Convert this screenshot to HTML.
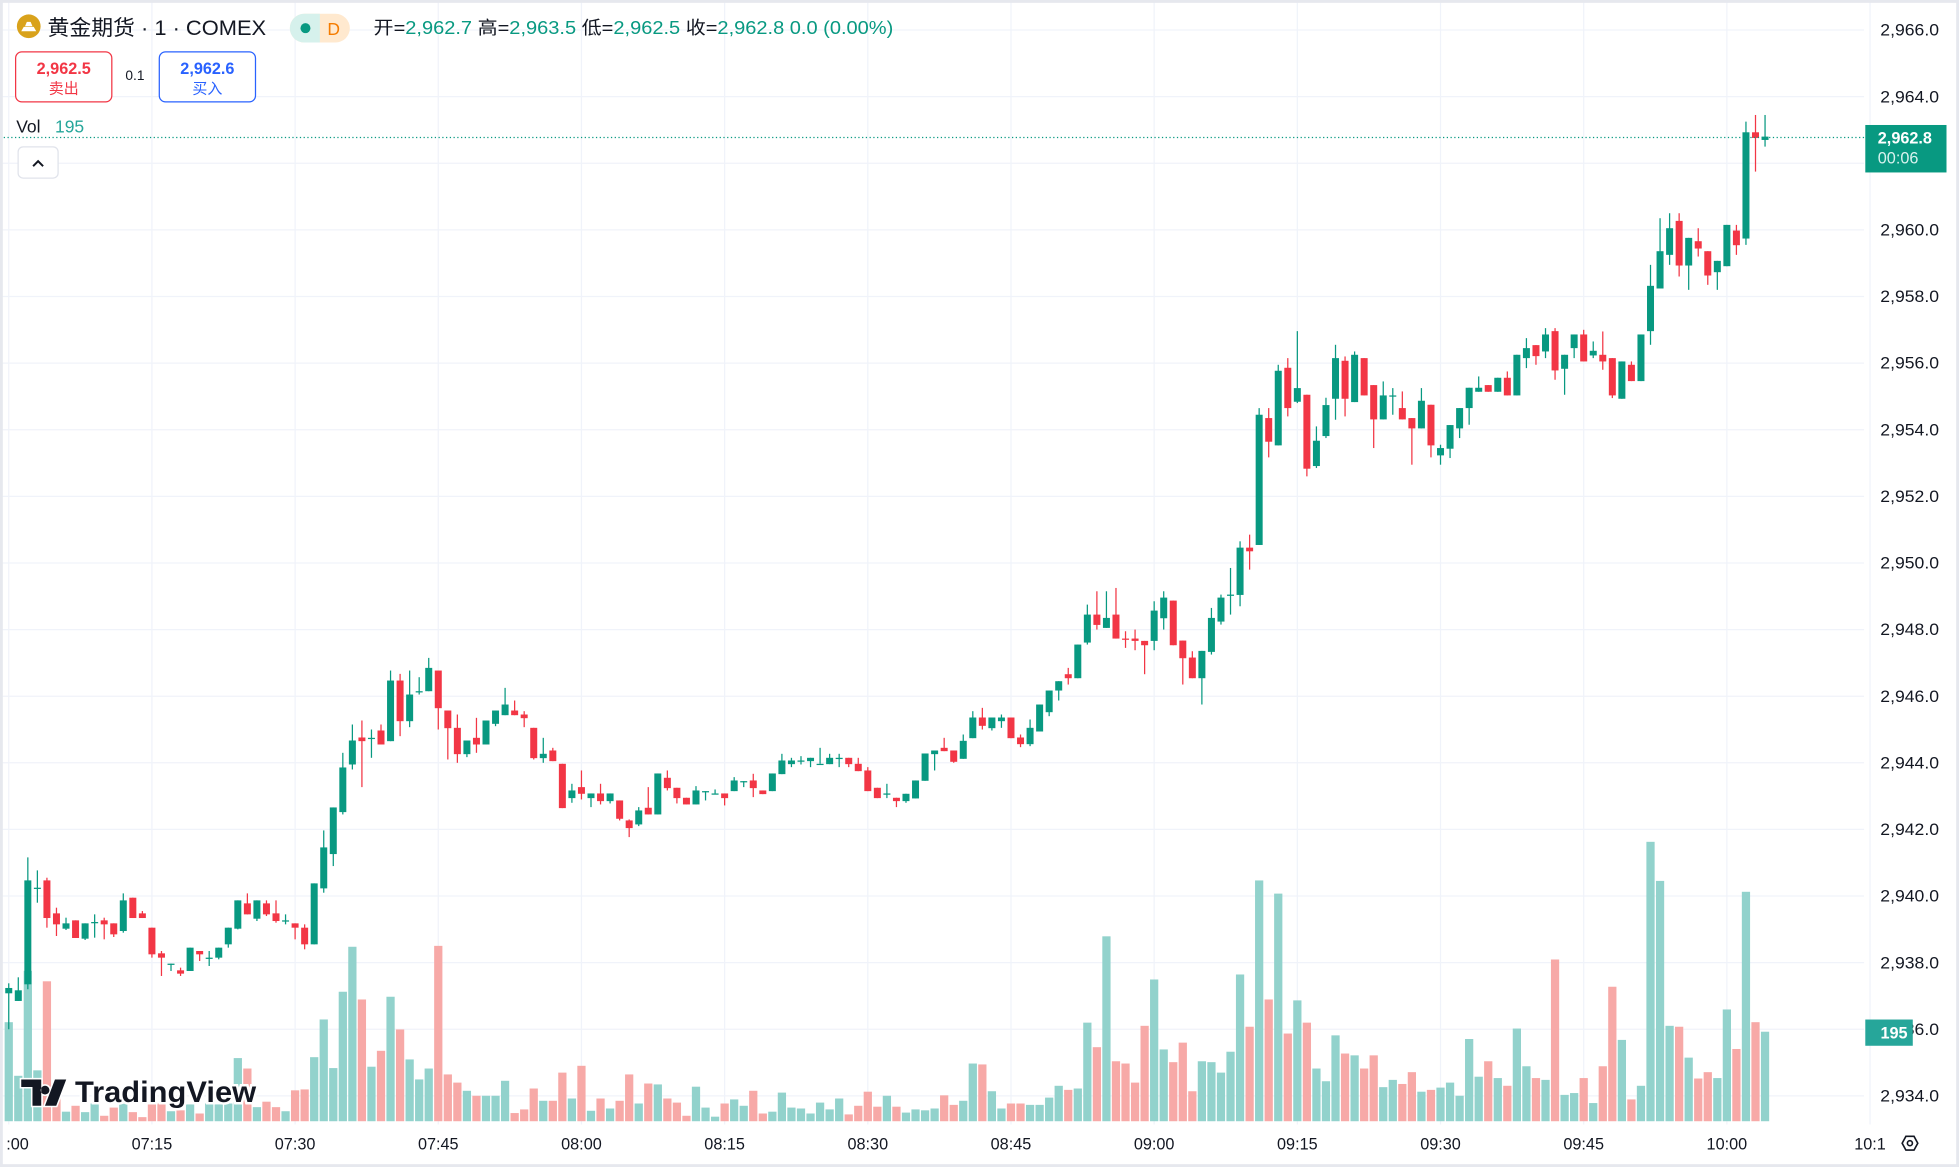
<!DOCTYPE html>
<html><head><meta charset="utf-8">
<style>
html,body{margin:0;padding:0;background:#fff;}
svg{display:block;}
text{font-family:"Liberation Sans","Noto Sans CJK SC",sans-serif;}
</style></head>
<body>
<svg id="chart" width="1959" height="1167" viewBox="0 0 1568 934" xmlns="http://www.w3.org/2000/svg">
  <rect x="0" y="0" width="1568" height="934" fill="#fff"/>
  <g id="grid"></g>
  <g id="vols"></g>
  <g id="candles"></g>
  <line x1="0" y1="110" x2="1492" y2="110" stroke="#089981" stroke-width="1" stroke-dasharray="1 2"/>
  <g id="yaxis"></g>
  <g id="xaxis"></g>

  <!-- header -->
  <g>
    <circle cx="23" cy="21" r="9.5" fill="#d9a21b"/>
    <path d="M17 25 L29 25 L27 21.5 L19 21.5 Z M20 21 L26 21 L24.5 17.5 L21.5 17.5 Z" fill="#fff"/>
    <text x="38" y="28" font-size="17" fill="#131722" textLength="175" lengthAdjust="spacingAndGlyphs">黄金期货 · 1 · COMEX</text>
    <rect x="232" y="11" width="48" height="23" rx="11.5" fill="#ffe9cf"/>
    <path d="M243.5 11 A11.5 11.5 0 0 0 243.5 34 L256 34 L256 11 Z" fill="#d6f1ec"/>
    <circle cx="244.5" cy="22.5" r="4" fill="#089981"/>
    <text x="262" y="28" font-size="14" fill="#f57c00">D</text>
    <text x="299" y="27" font-size="14.5" fill="#131722" textLength="416" lengthAdjust="spacingAndGlyphs">开=<tspan fill="#089981">2,962.7</tspan> 高=<tspan fill="#089981">2,963.5</tspan> 低=<tspan fill="#089981">2,962.5</tspan> 收=<tspan fill="#089981">2,962.8</tspan> <tspan fill="#089981">0.0 (0.00%)</tspan></text>
  </g>
  <g>
    <rect x="12.5" y="41.5" width="77" height="40" rx="5" fill="#fff" stroke="#f23645"/>
    <text x="51" y="59" font-size="13" font-weight="bold" fill="#f23645" text-anchor="middle">2,962.5</text>
    <text x="51" y="75" font-size="12" fill="#f23645" text-anchor="middle">卖出</text>
  </g>
  <text x="108" y="64" font-size="11" fill="#131722" text-anchor="middle">0.1</text>
  <g>
    <rect x="127.5" y="41.5" width="77" height="40" rx="5" fill="#fff" stroke="#2962ff"/>
    <text x="166" y="59" font-size="13" font-weight="bold" fill="#2962ff" text-anchor="middle">2,962.6</text>
    <text x="166" y="75" font-size="12" fill="#2962ff" text-anchor="middle">买入</text>
  </g>
  <text x="13" y="106" font-size="14" fill="#131722">Vol</text>
  <text x="44" y="106" font-size="14" fill="#26a69a">195</text>
  <g>
    <rect x="14.5" y="117.5" width="32" height="25" rx="4" fill="#fff" stroke="#e0e3eb"/>
    <path d="M26.5 133 L30.5 129 L34.5 133" fill="none" stroke="#131722" stroke-width="1.6"/>
  </g>

  <!-- price tags -->
  <g>
    <rect x="1493" y="100" width="65" height="38" fill="#089981"/>
    <text x="1503" y="115" font-size="13" font-weight="bold" fill="#fff">2,962.8</text>
    <text x="1503" y="131" font-size="13" fill="#d9f2ee">00:06</text>
  </g>
  <g>
    <rect x="1493" y="816" width="38" height="21" fill="#26a69a"/>
    <text x="1516" y="831" font-size="13" font-weight="bold" fill="#fff" text-anchor="middle">195</text>
  </g>

  <!-- TradingView logo -->
  <g>
    <text x="60" y="882" font-size="24" font-weight="bold" fill="#131722" stroke="#fff" stroke-width="4" paint-order="stroke" textLength="145" lengthAdjust="spacingAndGlyphs">TradingView</text>
    <path d="M17 864 H33 V885 H26 V870 H17 Z M36 869 a3.5 3.5 0 1 0 0.1 0 Z M44 864 H53 L45 885 H36 Z" fill="#131722" stroke="#fff" stroke-width="2.5" paint-order="stroke"/>
  </g>

  <g>
    <path d="M1522.5 915 L1525.5 909.5 L1532 909.5 L1535 915 L1532 920.5 L1525.5 920.5 Z" fill="none" stroke="#131722" stroke-width="1.3"/>
    <circle cx="1528.7" cy="915" r="2" fill="none" stroke="#131722" stroke-width="1.3"/>
  </g>
  <rect x="1" y="1" width="1566" height="932" fill="none" stroke="#e6e8ee" stroke-width="2.5"/>
</svg>
<script>
// ===== data =====
const opens  = [2937.08,2936.85,2937.35,2940.25,2940.47,2939.48,2939.02,2939.27,2938.72,2939.22,2939.27,2939.18,2938.95,2939.95,2939.48,2939.05,2938.28,2937.97,2937.77,2937.75,2938.35,2938.15,2938.15,2938.55,2939.02,2939.78,2939.32,2939.78,2939.48,2939.27,2939.18,2939.05,2938.55,2940.23,2941.26,2942.52,2943.95,2944.76,2944.75,2944.97,2944.65,2946.47,2945.25,2946.15,2946.15,2946.77,2945.57,2945.05,2944.26,2944.75,2944.55,2945.17,2945.43,2945.57,2945.45,2945.05,2944.14,2944.37,2943.97,2942.94,2943.27,2942.94,2943.08,2942.85,2942.87,2942.27,2942.15,2942.65,2942.45,2943.55,2943.25,2942.95,2942.75,2943.15,2943.08,2943.08,2943.15,2943.45,2943.47,2943.17,2943.15,2943.66,2943.96,2944.07,2944.05,2943.97,2943.96,2944.15,2944.15,2943.97,2943.77,2943.25,2943.08,2942.95,2942.85,2942.93,2943.46,2944.26,2944.45,2944.37,2944.12,2944.74,2945.36,2945.04,2945.25,2945.36,2944.76,2944.56,2944.94,2945.52,2946.17,2946.66,2946.54,2947.61,2948.45,2948.05,2948.45,2947.73,2947.73,2947.66,2947.66,2948.34,2948.87,2947.67,2947.16,2946.54,2947.33,2948.24,2949.05,2949.04,2950.46,2950.54,2954.35,2953.53,2955.86,2954.84,2955.05,2952.91,2953.81,2954.93,2956.07,2954.83,2956.15,2955.34,2954.31,2955.03,2954.65,2954.35,2954.04,2954.75,2953.23,2953.43,2954.04,2954.65,2955.14,2955.34,2955.14,2955.56,2955.03,2956.15,2956.54,2956.35,2956.96,2955.83,2956.45,2956.86,2956.23,2956.25,2956.15,2954.93,2955.95,2955.46,2956.96,2958.24,2959.25,2960.27,2958.93,2959.66,2959.36,2958.73,2958.91,2959.98,2959.74,2962.93,2962.70];
const highs  = [2937.38,2937.56,2941.16,2940.77,2940.55,2939.65,2939.35,2939.27,2939.18,2939.45,2939.35,2939.18,2940.08,2939.95,2939.55,2939.05,2938.35,2937.97,2937.85,2938.45,2938.35,2938.35,2938.45,2939.05,2939.87,2940.08,2939.87,2939.87,2939.87,2939.45,2939.18,2939.15,2940.38,2941.97,2942.66,2944.30,2945.15,2945.27,2945.00,2945.15,2946.77,2946.67,2946.77,2946.57,2947.15,2946.77,2945.57,2945.45,2944.67,2945.35,2945.27,2945.57,2946.25,2945.87,2945.55,2945.05,2944.75,2944.45,2943.97,2943.37,2943.77,2943.08,2943.37,2943.08,2942.87,2942.30,2942.67,2943.27,2943.68,2943.77,2943.25,2942.95,2943.30,2943.15,2943.20,2943.08,2943.57,2943.45,2943.67,2943.17,2943.68,2944.27,2944.15,2944.20,2944.15,2944.45,2944.27,2944.27,2944.15,2944.15,2943.87,2943.25,2943.37,2942.95,2943.07,2943.47,2944.28,2944.37,2944.75,2944.37,2944.85,2945.55,2945.65,2945.36,2945.45,2945.36,2944.85,2945.30,2945.75,2946.17,2946.45,2946.85,2947.55,2948.75,2949.15,2949.15,2949.25,2947.95,2948.00,2947.66,2948.85,2949.15,2948.87,2947.67,2947.35,2947.36,2948.65,2949.05,2949.85,2950.65,2950.85,2954.65,2954.65,2955.95,2956.15,2956.96,2955.05,2954.10,2954.96,2956.55,2956.20,2956.35,2956.15,2955.34,2955.45,2955.25,2955.15,2954.35,2955.25,2954.75,2953.55,2954.14,2954.65,2955.26,2955.60,2955.34,2955.56,2955.75,2956.25,2956.75,2956.54,2957.05,2957.05,2956.25,2956.86,2957.00,2956.65,2956.95,2956.15,2956.05,2956.05,2956.86,2958.95,2960.35,2960.50,2960.50,2959.76,2960.05,2959.36,2959.07,2960.15,2960.15,2963.25,2963.45,2963.45];
const lows   = [2936.00,2936.85,2937.20,2939.80,2939.05,2938.80,2938.98,2938.74,2938.68,2938.75,2938.70,2938.77,2938.90,2939.34,2939.34,2938.15,2937.60,2937.75,2937.60,2937.75,2938.05,2937.90,2938.10,2938.45,2939.00,2939.45,2939.25,2939.40,2939.20,2939.15,2938.70,2938.40,2938.55,2940.10,2940.90,2942.45,2943.80,2943.27,2944.15,2944.55,2944.65,2944.80,2945.07,2946.05,2946.15,2945.00,2944.10,2944.00,2944.17,2944.30,2944.55,2945.10,2945.43,2945.43,2945.07,2944.10,2944.00,2944.05,2942.64,2942.80,2942.90,2942.67,2942.75,2942.78,2942.27,2941.77,2942.10,2942.45,2942.45,2943.17,2942.78,2942.75,2942.75,2942.87,2943.08,2942.72,2943.15,2943.27,2942.97,2943.06,2943.15,2943.66,2943.87,2943.95,2943.87,2943.97,2943.96,2943.87,2943.87,2943.75,2943.15,2942.94,2942.94,2942.67,2942.80,2942.93,2943.46,2943.77,2944.35,2944.00,2944.12,2944.74,2945.00,2944.97,2945.05,2944.74,2944.47,2944.50,2944.94,2945.40,2945.87,2946.35,2946.54,2947.55,2948.00,2948.05,2947.73,2947.45,2947.38,2946.66,2947.38,2948.00,2947.53,2946.35,2946.54,2945.75,2947.25,2948.15,2948.45,2948.70,2949.80,2950.54,2953.17,2953.53,2954.40,2954.80,2952.60,2952.85,2953.75,2954.30,2954.40,2954.83,2955.03,2953.45,2954.31,2954.45,2954.31,2952.95,2954.04,2953.17,2952.95,2953.15,2953.75,2954.15,2955.14,2955.14,2955.14,2955.03,2955.03,2955.85,2955.95,2956.15,2955.50,2955.05,2956.15,2956.05,2956.15,2955.80,2954.95,2954.93,2955.46,2955.46,2956.55,2958.24,2958.95,2958.60,2958.20,2959.20,2958.35,2958.20,2958.91,2959.25,2959.55,2961.75,2962.50];
const closes = [2937.24,2937.17,2940.47,2940.25,2939.34,2939.15,2939.18,2938.74,2939.18,2939.22,2939.15,2938.85,2939.87,2939.34,2939.34,2938.25,2938.15,2937.97,2937.67,2938.45,2938.25,2938.15,2938.45,2939.05,2939.87,2939.45,2939.87,2939.45,2939.25,2939.27,2939.05,2938.55,2940.38,2941.46,2942.66,2943.86,2944.67,2944.65,2944.75,2944.55,2946.47,2945.25,2946.05,2946.15,2946.85,2945.64,2945.04,2944.26,2944.67,2944.55,2945.27,2945.57,2945.75,2945.43,2945.34,2944.14,2944.27,2944.05,2942.64,2943.17,2943.07,2943.08,2942.85,2943.08,2942.32,2942.04,2942.57,2942.45,2943.68,2943.24,2942.94,2942.75,2943.17,2943.15,2943.08,2942.94,2943.47,2943.45,2943.24,2943.06,2943.68,2944.07,2944.07,2944.07,2944.15,2943.97,2944.15,2944.15,2943.96,2943.75,2943.15,2942.94,2943.08,2942.85,2943.07,2943.47,2944.28,2944.37,2944.35,2944.03,2944.66,2945.36,2945.11,2945.36,2945.36,2944.74,2944.56,2945.05,2945.75,2946.17,2946.45,2946.54,2947.55,2948.45,2948.14,2948.35,2947.73,2947.70,2947.66,2947.53,2948.57,2948.96,2947.53,2947.14,2946.54,2947.36,2948.35,2948.96,2949.05,2950.46,2950.35,2954.45,2953.64,2955.77,2954.65,2955.25,2952.83,2953.67,2954.74,2956.15,2954.93,2956.25,2955.03,2954.31,2955.03,2955.03,2954.31,2954.04,2954.87,2953.53,2953.45,2954.14,2954.65,2955.26,2955.26,2955.14,2955.56,2955.03,2956.25,2956.45,2956.21,2956.86,2955.78,2956.25,2956.86,2956.05,2956.37,2956.05,2955.03,2956.05,2955.46,2956.86,2958.32,2959.36,2960.05,2958.93,2959.76,2959.44,2958.63,2959.07,2960.15,2959.54,2962.93,2962.76,2962.80];
const volumes = [218,100,331,112,308,60,21,34,20,39,12,30,40,20,9,39,39,22,24,37,17,39,37,39,139,116,31,43,31,22,68,70,141,224,117,285,384,268,120,155,274,202,136,92,116,386,103,85,67,56,56,56,89,18,26,72,45,45,107,50,122,23,50,28,45,103,39,83,81,50,41,12,76,30,10,39,48,34,67,17,21,63,30,28,17,41,26,50,15,34,65,32,56,32,19,26,24,28,57,36,45,127,125,66,28,39,39,36,36,52,78,69,72,217,163,407,132,127,85,210,312,158,130,173,66,132,130,107,153,323,208,530,268,501,193,266,217,116,88,189,149,145,116,145,75,91,82,108,65,69,74,85,56,181,98,132,95,78,204,121,95,91,356,58,62,95,40,121,296,179,48,78,615,529,210,208,140,94,108,95,246,159,505,218,197];
const priceTicks = [2966,2964,2962,2960,2958,2956,2954,2952,2950,2948,2946,2944,2942,2940,2938,2936,2934];
const timeTickLabels = [":00","07:15","07:30","07:45","08:00","08:15","08:30","08:45","09:00","09:15","09:30","09:45","10:00","10:1"];
const timeTickMinutes = [0,15,30,45,60,75,90,105,120,135,150,165,180,195];

// ===== scales =====
const NS="http://www.w3.org/2000/svg";
function yP(p){return 24+(2966-p)*26.66;}
function xI(i){return 7+i*7.64;}
const volBase=897.4;
function yV(v){return volBase-v/2.75;}
function mk(tag,attrs,parent){const e=document.createElementNS(NS,tag);for(const k in attrs)e.setAttribute(k,attrs[k]);parent.appendChild(e);return e;}

const grid=document.getElementById('grid');
const yaxis=document.getElementById('yaxis');
const xaxis=document.getElementById('xaxis');
priceTicks.forEach(p=>{
  const l=mk('line',{x1:0,x2:1492,y1:yP(p),y2:yP(p),stroke:'#f0f3fa','stroke-width':1},grid);
  
  
  const t=mk('text',{x:1505,y:yP(p)+4.5,'font-size':13,fill:'#131722',textLength:47,lengthAdjust:'spacingAndGlyphs'},yaxis);
  t.textContent=p.toLocaleString('en-US',{minimumFractionDigits:1,maximumFractionDigits:1});
  
  
});
timeTickMinutes.forEach((m,k)=>{
  const x=xI(m);
  const l=mk('line',{x1:x,x2:x,y1:0,y2:900,stroke:'#f0f3fa','stroke-width':1},grid);
  
  
  const t=mk('text',{x:k===0?14:x,y:920,'font-size':13,fill:'#131722','text-anchor':'middle'},xaxis);
  t.textContent=timeTickLabels[k];
  
  
});

const vg=document.getElementById('vols');
const cg=document.getElementById('candles');
closes.forEach((c,i)=>{
  const o=opens[i],h=highs[i],lo=lows[i],v=volumes[i];
  const up=c>=o;
  const x=xI(i);
  const vb=mk('rect',{x:x-3.3,y:yV(v),width:6.6,height:volBase-yV(v),fill:up?'#92d2cc':'#f7a9a7'},vg);
  
  
  const col=up?'#089981':'#f23645';
  const w=mk('line',{x1:x,x2:x,y1:yP(h),y2:yP(lo),stroke:col,'stroke-width':1},cg);
  
  
  const top=yP(Math.max(o,c)),bot=yP(Math.min(o,c));
  const b=mk('rect',{x:x-2.8,y:top,width:5.6,height:Math.max(1,bot-top),fill:col},cg);
  
  
});
</script>
</body></html>
